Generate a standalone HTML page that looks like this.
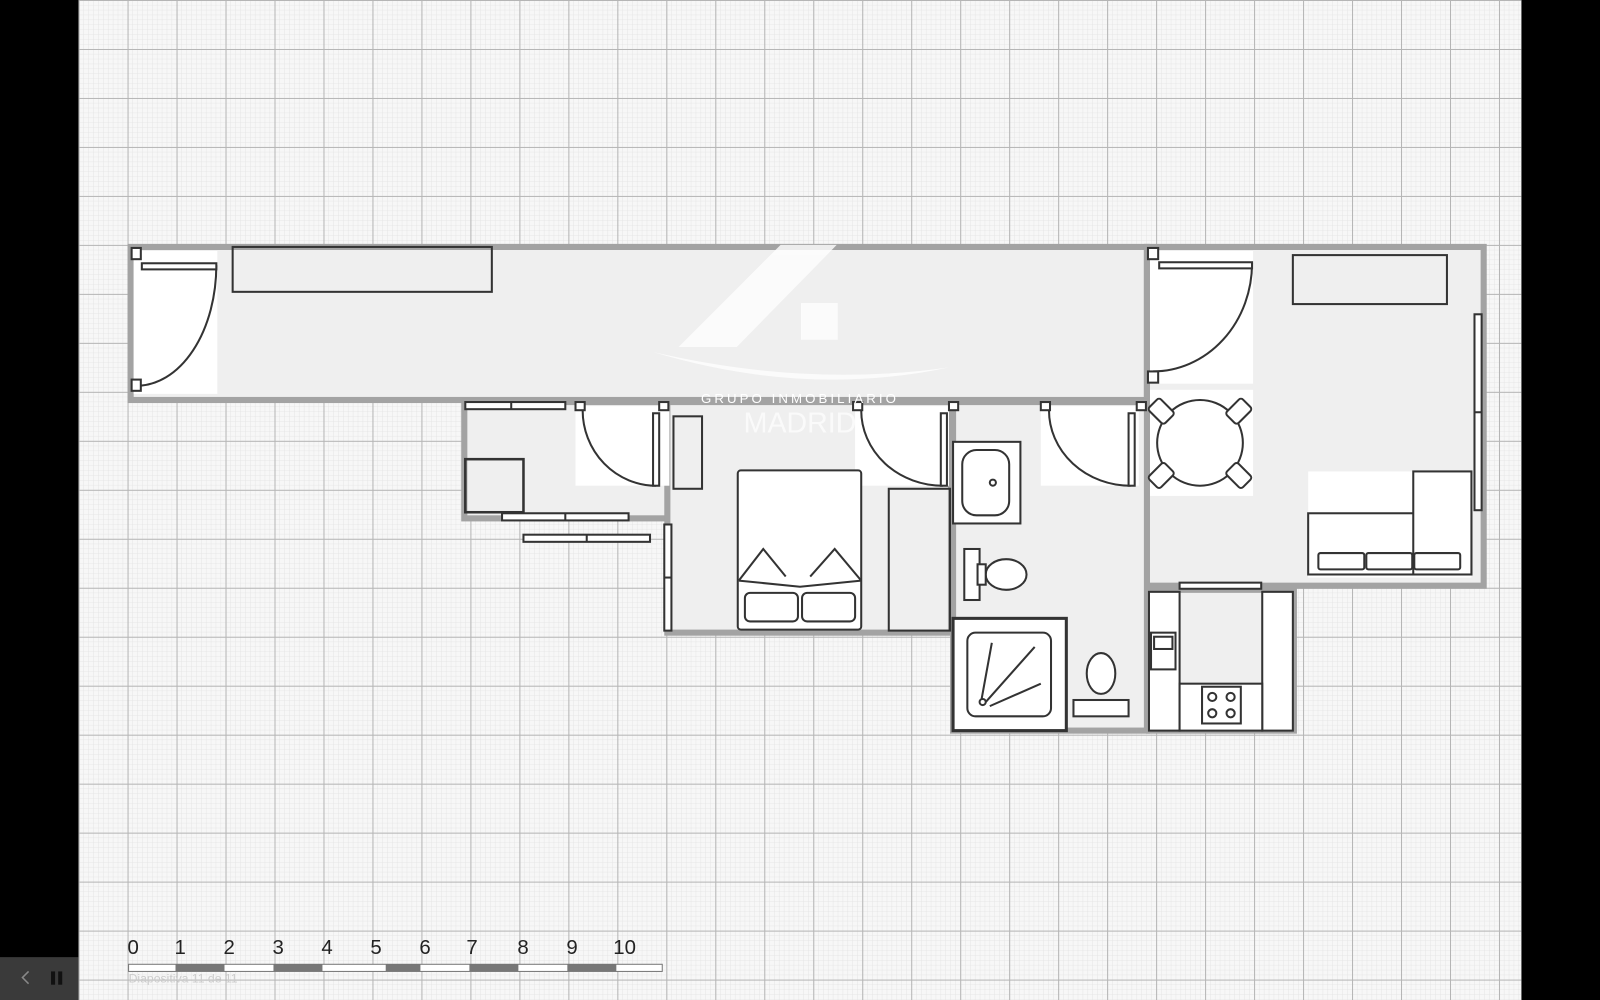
<!DOCTYPE html>
<html><head><meta charset="utf-8"><style>
html,body{margin:0;padding:0;background:#000;width:1600px;height:1000px;overflow:hidden}
svg{display:block}
text{font-family:"Liberation Sans",sans-serif}
</style></head><body>
<svg width="1600" height="1000" viewBox="0 0 1568 980" preserveAspectRatio="none" xmlns="http://www.w3.org/2000/svg">
<defs>
<pattern id="minor" x="77" y="0" width="4.8" height="4.8" patternUnits="userSpaceOnUse">
<path d="M0 0H4.8M0 0V4.8" stroke="#e2e2e2" stroke-width="0.8" fill="none"/>
</pattern>
<pattern id="major" x="77" y="0" width="48" height="48" patternUnits="userSpaceOnUse">
<path d="M0 0H48M0 0V48" stroke="#b5b5b5" stroke-width="2" fill="none"/>
</pattern>
</defs>
<rect x="0" y="0" width="1568" height="980" fill="#000"/>
<rect x="77" y="0" width="1414" height="980" fill="#f7f7f7"/>
<rect x="77" y="0" width="1414" height="980" fill="url(#minor)"/>
<rect x="77" y="0" width="1414" height="980" fill="url(#major)"/>

<g fill="#efefef" stroke="#a3a3a3" stroke-width="6">
<rect x="128" y="242" width="996" height="150"/>
<rect x="1124" y="242" width="330" height="332"/>
<rect x="455" y="394" width="200" height="114"/>
<rect x="654" y="394" width="278" height="226"/>
<rect x="934" y="394" width="190" height="322"/>
<rect x="1126" y="578" width="142" height="138"/>
</g>
<g fill="#fff">
<rect x="131" y="246" width="82" height="140"/>
<rect x="1127" y="246" width="101" height="130"/>
<rect x="564" y="398" width="92" height="78"/>
<rect x="838" y="398" width="92" height="78"/>
<rect x="1020" y="398" width="96" height="78"/>
<rect x="1127" y="382" width="101" height="104"/>
<rect x="1282" y="462" width="160" height="104"/>
</g>
<g fill="none" stroke="#333" stroke-width="2">
<path d="M134 378 A78 118 0 0 0 212 260"/><rect x="139" y="258" width="73" height="6" fill="#fff"/>
<rect x="129" y="243" width="9" height="11" fill="#fff"/><rect x="129" y="372" width="9" height="11" fill="#fff"/>
<path d="M1130 364 A97 106 0 0 0 1227 258"/><rect x="1136" y="257" width="91" height="6" fill="#fff"/>
<rect x="1125" y="243" width="10" height="11" fill="#fff"/><rect x="1125" y="364" width="10" height="11" fill="#fff"/>
<path d="M571 402 A72 74 0 0 0 643 476"/><rect x="640" y="405" width="6" height="71" fill="#fff"/>
<rect x="564" y="394" width="9" height="8" fill="#fff"/><rect x="646" y="394" width="9" height="8" fill="#fff"/>
<path d="M844 402 A80 74 0 0 0 924 476"/><rect x="922" y="405" width="6" height="71" fill="#fff"/>
<rect x="836" y="394" width="9" height="8" fill="#fff"/><rect x="930" y="394" width="9" height="8" fill="#fff"/>
<path d="M1028 402 A80 74 0 0 0 1108 476"/><rect x="1106" y="405" width="6" height="71" fill="#fff"/>
<rect x="1020" y="394" width="9" height="8" fill="#fff"/><rect x="1114" y="394" width="9" height="8" fill="#fff"/>
<rect x="456" y="394" width="98" height="7" fill="#fff"/><line x1="501" y1="394" x2="501" y2="401"/>
<rect x="492" y="503" width="124" height="7" fill="#fff"/><line x1="554" y1="503" x2="554" y2="510"/>
<rect x="513" y="524" width="124" height="7" fill="#fff"/><line x1="575" y1="524" x2="575" y2="531"/>
<rect x="651" y="514" width="7" height="104" fill="#fff"/><line x1="651" y1="566" x2="658" y2="566"/>
<rect x="1445" y="308" width="7" height="192" fill="#fff"/><line x1="1445" y1="404" x2="1452" y2="404"/>
<rect x="1156" y="571" width="80" height="6" fill="#fff"/>
<rect x="228" y="242" width="254" height="44"/>
<rect x="1267" y="250" width="151" height="48"/>
<rect x="456" y="450" width="57" height="52" stroke-width="2.5"/>
<rect x="660" y="408" width="28" height="71"/>
<rect x="723" y="461" width="121" height="156" rx="3" fill="#fff"/>
<path d="M724 569 L748 538 L770 565 M844 569 L818 538 L794 565 M724 569 L784 575 L844 569"/>
<rect x="730" y="581" width="52" height="28" rx="5" fill="#fff"/><rect x="786" y="581" width="52" height="28" rx="5" fill="#fff"/>
<rect x="871" y="479" width="60" height="139"/>
<rect x="934" y="433" width="66" height="80" fill="#fff"/><rect x="943" y="441" width="46" height="64" rx="14" fill="#fff"/><circle cx="973" cy="473" r="3"/>
<rect x="945" y="538" width="15" height="50" fill="#fff"/><ellipse cx="986" cy="563" rx="20" ry="15" fill="#fff"/><rect x="958" y="553" width="8" height="20" fill="#fff"/>
<rect x="934" y="606" width="111" height="110" stroke-width="3" fill="#fff"/><rect x="948" y="620" width="82" height="82" rx="8" fill="#fff"/>
<path d="M962 685 L972 630 M966 688 L1014 634 M970 692 L1020 670"/><circle cx="963" cy="688" r="3"/>
<rect x="1052" y="686" width="54" height="16" fill="#fff"/><ellipse cx="1079" cy="660" rx="14" ry="20" fill="#fff"/>
<circle cx="1176" cy="434" r="42" fill="#fff"/>
<g fill="#fff"><rect x="1130" y="392" width="16" height="22" rx="3" transform="rotate(-45 1138 403)"/><rect x="1206" y="392" width="16" height="22" rx="3" transform="rotate(45 1214 403)"/><rect x="1130" y="455" width="16" height="22" rx="3" transform="rotate(45 1138 466)"/><rect x="1206" y="455" width="16" height="22" rx="3" transform="rotate(-45 1214 466)"/></g>
<rect x="1282" y="503" width="160" height="60" fill="#fff"/><rect x="1385" y="462" width="57" height="101" fill="#fff"/>
<rect x="1292" y="542" width="45" height="16" rx="2" fill="#fff"/><rect x="1339" y="542" width="45" height="16" rx="2" fill="#fff"/><rect x="1386" y="542" width="45" height="16" rx="2" fill="#fff"/>
<rect x="1126" y="580" width="30" height="136" fill="#fff"/><rect x="1237" y="580" width="30" height="136" fill="#fff"/>
<rect x="1156" y="670" width="81" height="46" fill="#fff"/><rect x="1178" y="673" width="38" height="36" fill="#fff"/>
<circle cx="1188" cy="683" r="4"/><circle cx="1206" cy="683" r="4"/><circle cx="1188" cy="699" r="4"/><circle cx="1206" cy="699" r="4"/>
<rect x="1128" y="620" width="24" height="36" fill="#fff"/><rect x="1131" y="624" width="18" height="12"/>
</g>
<g fill="#fff" opacity="0.8">
<path d="M665 340 L765 240 L800 240 L700 340 Z M700 340 L800 240 L820 240 L722 340 Z"/>
<rect x="785" y="297" width="36" height="36"/>
<path d="M640 345 Q790 390 930 360 Q790 380 640 345 Z"/>
</g>
<text x="784" y="395" font-size="13" fill="#fff" text-anchor="middle" letter-spacing="3">GRUPO INMOBILIARIO</text>
<text x="784" y="424" font-size="28" fill="#fff" opacity="0.7" text-anchor="middle" font-family="Liberation Serif">MADRID</text>
<g font-size="20" fill="#222">
<text x="125" y="935">0</text><text x="171" y="935">1</text><text x="219" y="935">2</text><text x="267" y="935">3</text><text x="315" y="935">4</text><text x="363" y="935">5</text><text x="411" y="935">6</text><text x="457" y="935">7</text><text x="507" y="935">8</text><text x="555" y="935">9</text><text x="601" y="935">10</text>
</g>
<rect x="126" y="945" width="523" height="7" fill="#fff" stroke="#777" stroke-width="1"/>
<g fill="#777"><rect x="172" y="945" width="48" height="7"/><rect x="268" y="945" width="48" height="7"/><rect x="378" y="945" width="34" height="7"/><rect x="460" y="945" width="48" height="7"/><rect x="556" y="945" width="48" height="7"/></g>
<rect x="0" y="938" width="77" height="42" fill="#3a3a3a"/>
<rect x="50" y="952" width="4" height="13" fill="#111"/><rect x="57" y="952" width="4" height="13" fill="#111"/>
<path d="M28 952 L22 958 L28 964" stroke="#888" fill="none" stroke-width="1.5"/>
<text x="126" y="963" font-size="12" fill="#ccc">Diapositiva 11 de 11</text>
</svg>
</body></html>
